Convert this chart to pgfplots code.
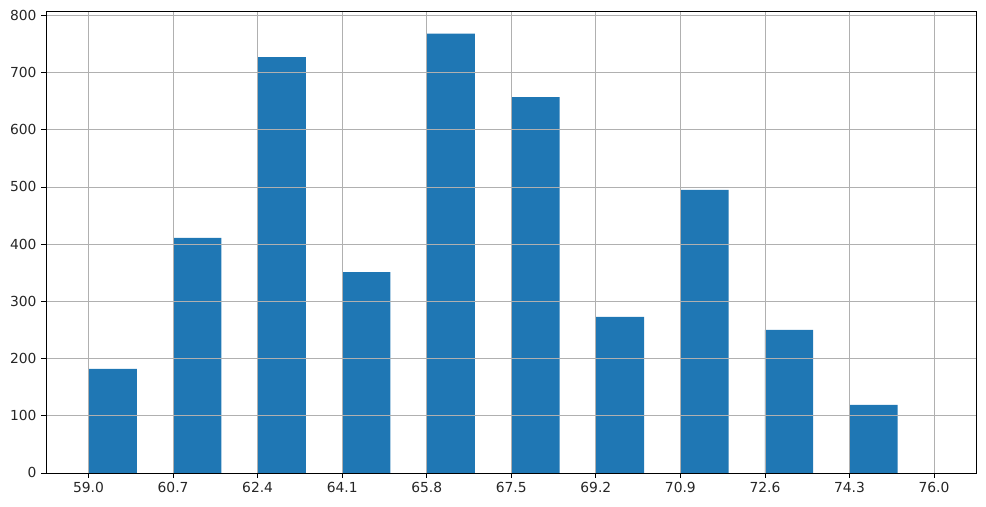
\documentclass[border=0pt]{standalone}
\usepackage{pgfplots}
\pgfplotsset{compat=1.18}
\usetikzlibrary{calc}
\usepackage{fontspec}
\setmainfont{DejaVu Sans}
\definecolor{barblue}{RGB}{31,119,180}
\definecolor{gridgray}{RGB}{176,176,176}
\begin{document}
\fontsize{10}{12}\selectfont
\begin{tikzpicture}
\begin{axis}[
  name=ax,
  scale only axis,
  width=669.6bp, height=332.1bp,
  xmin=58.15, xmax=76.85,
  ymin=0, ymax=806.4,
  xtick={59,60.7,62.4,64.1,65.8,67.5,69.2,70.9,72.6,74.3,76},
  ytick={0,100,200,300,400,500,600,700,800},
  xticklabel style={/pgf/number format/.cd, fixed, fixed zerofill, precision=1},
  /pgf/number format/assume math mode=true,
  tick align=outside,
  tick pos=left,
  major tick length=3.5bp,
  tick style={black, line width=0.58bp},
  grid=major,
  major grid style={gridgray, line width=0.58bp},
  axis line style={black, line width=0.58bp},
  axis on top,
  ticklabel style={font=\fontsize{10}{12}\selectfont, text=black!85},
]
\addplot[ybar, bar width=0.97, bar shift=0pt, fill=barblue, draw=none] coordinates {
(59.485,182) (61.185,411) (62.885,727) (64.585,351) (66.285,768)
(67.985,657) (69.685,273) (71.385,495) (73.085,250) (74.785,119)
};
\end{axis}
\pgfresetboundingbox
\path (ax.south west) ++(-33.3bp,-24.5bp) rectangle ($(ax.north east)+(7.0bp,8.4bp)$);
\end{tikzpicture}
\end{document}
